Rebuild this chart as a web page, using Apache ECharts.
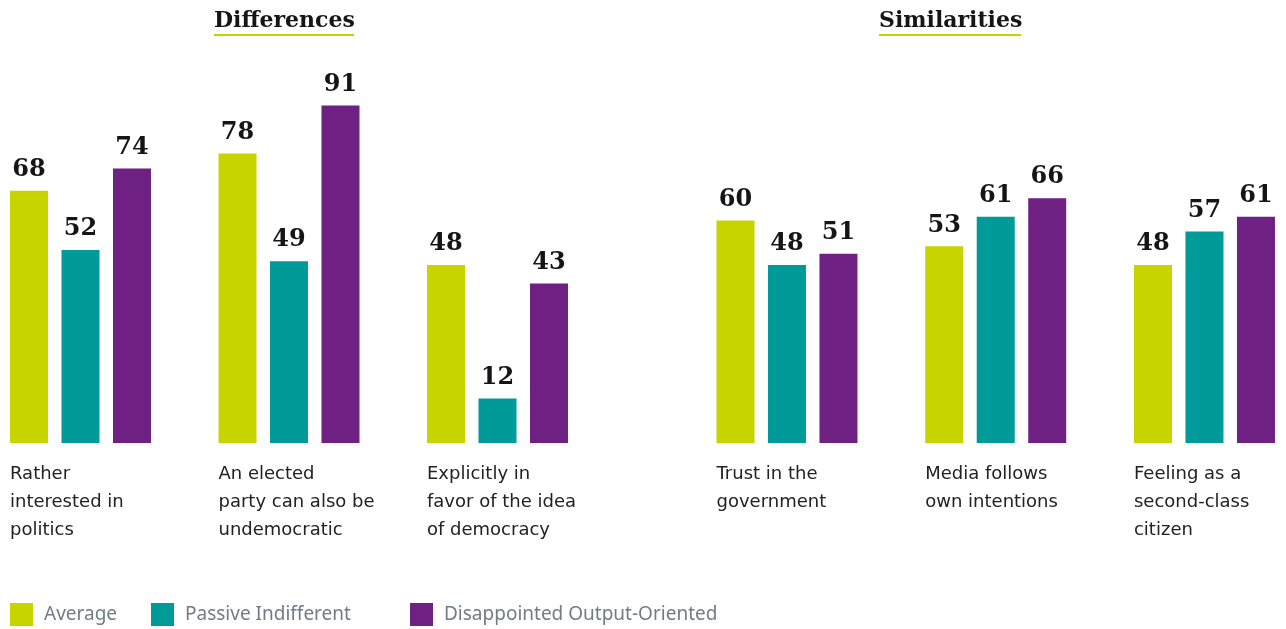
<!DOCTYPE html>
<html>
<head>
<meta charset="utf-8">
<script src="https://cdn.jsdelivr.net/npm/echarts@6/dist/echarts.min.js"></script>
<style>
  html, body { margin: 0; padding: 0; background: #ffffff; overflow: hidden; }
  /* the canvas is a little wider than the page so the first bar group can sit near the edge */
  #chart { width: 1334px; height: 629px; margin-left: -24px; }
</style>
</head>
<body>
<div id="chart"></div>
<script>
// Survey shares (%) by attitude type
const seriesNames = ['Average', 'Passive Indifferent', 'Disappointed Output-Oriented'];
const seriesColors = ['#c8d400', '#009b98', '#6e2182'];

const diffCategories = [
  'Rather\ninterested in\npolitics',
  'An elected\nparty can also be\nundemocratic',
  'Explicitly in\nfavor of the idea\nof democracy'
];
const diffAverage = [68, 78, 48];
const diffPassive = [52, 49, 12];
const diffDisappointed = [74, 91, 43];

const simCategories = [
  'Trust in the\ngovernment',
  'Media follows\nown intentions',
  'Feeling as a\nsecond-class\ncitizen'
];
const simAverage = [60, 53, 48];
const simPassive = [48, 61, 57];
const simDisappointed = [51, 66, 61];

const panelTitles = ['Differences', 'Similarities'];

// horizontal shift between page pixels and canvas pixels
const OFF = 24;

const chart = echarts.init(document.getElementById('chart'));

const serifFont = '"DejaVu Serif", serif';
const labelFont = '"DejaVu Sans", sans-serif';
const legendFont = '"Noto Sans", sans-serif';

function xAxisFor(cats, gridIndex) {
  return {
    type: 'category',
    gridIndex: gridIndex,
    data: cats,
    axisLine: { show: false },
    axisTick: { show: false },
    axisLabel: {
      interval: 0,
      margin: 17,
      formatter: function (v) {
        return v.split('\n').map(function (l) { return '{t|' + l + '}'; }).join('\n');
      },
      rich: {
        t: {
          width: 141,
          align: 'left',
          fontFamily: labelFont,
          fontSize: 18,
          lineHeight: 28,
          color: '#222222'
        }
      }
    }
  };
}

function yAxisFor(gridIndex) {
  return {
    type: 'value', gridIndex: gridIndex, min: 0, max: 100,
    show: false, splitLine: { show: false }
  };
}

function barSeries(name, color, data, idx) {
  return {
    name: name,
    type: 'bar',
    xAxisIndex: idx,
    yAxisIndex: idx,
    data: data,
    barWidth: 38,
    barGap: '35.5%',
    itemStyle: { color: color },
    label: {
      show: true,
      position: 'top',
      distance: 9,
      fontFamily: serifFont,
      fontWeight: 'bold',
      fontSize: 24,
      color: '#151515'
    },
    emphasis: { disabled: true }
  };
}

const diffData = [diffAverage, diffPassive, diffDisappointed];
const simData = [simAverage, simPassive, simDisappointed];

const series = [];
seriesNames.forEach(function (n, i) {
  series.push(barSeries(n, seriesColors[i], diffData[i], 0));
  series.push(barSeries(n, seriesColors[i], simData[i], 1));
});

const legendLefts = [10, 151, 410];
const legends = seriesNames.map(function (n, i) {
  return {
    data: [n],
    left: legendLefts[i] + OFF,
    top: 603,
    padding: 0,
    itemWidth: 23,
    itemHeight: 23,
    itemGap: 0,
    icon: 'rect',
    textStyle: {
      fontFamily: legendFont,
      fontSize: 19,
      color: '#707c88',
      padding: [12, 0, 0, 6]
    }
  };
});

const titleLefts = [214, 879];
const titleUnderline = [[214, 354], [879, 1021]];

chart.setOption({
  animation: false,
  backgroundColor: '#ffffff',
  color: seriesColors,
  title: panelTitles.map(function (t, i) {
    return {
      text: t,
      left: titleLefts[i] + OFF,
      top: 10,
      padding: 0,
      textStyle: {
        fontFamily: serifFont,
        fontWeight: 'bold',
        fontSize: 22,
        color: '#151515'
      }
    };
  }),
  graphic: titleUnderline.map(function (u) {
    return {
      type: 'rect',
      shape: { x: u[0] + OFF, y: 34, width: u[1] - u[0], height: 2 },
      style: { fill: '#c8d400' },
      silent: true
    };
  }),
  legend: legends,
  grid: [
    { left: -23.75 + OFF, width: 625.5, top: 72, height: 371 },
    { left: 682.6 + OFF, width: 626.25, top: 72, height: 371 }
  ],
  xAxis: [xAxisFor(diffCategories, 0), xAxisFor(simCategories, 1)],
  yAxis: [yAxisFor(0), yAxisFor(1)],
  series: series
});
</script>
</body>
</html>
